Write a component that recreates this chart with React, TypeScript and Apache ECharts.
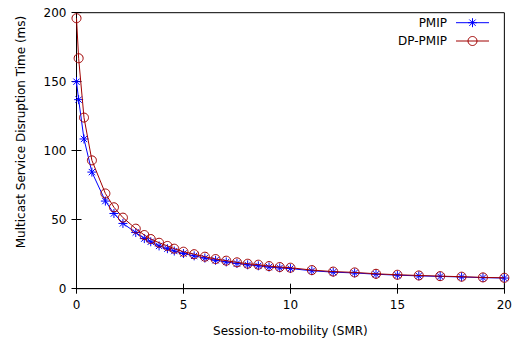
import React, { useEffect, useRef } from "react";
import * as echarts from "echarts";

const smr = [0, 0.1, 0.35, 0.72, 1.35, 1.75, 2.17, 2.77, 3.17, 3.47, 3.86, 4.25, 4.57, 5, 5.5, 6, 6.5, 7, 7.5, 8, 8.5, 9, 9.5, 10, 11, 12, 13, 14, 15, 16, 17, 18, 19, 20];
const dpPmip = [196, 167, 124, 93, 69, 59, 51.5, 43.5, 38.9, 36, 33.3, 31, 29, 26.8, 25, 23.2, 21.5, 20.3, 19.1, 18.1, 17.4, 16.4, 15.7, 15.2, 13.5, 12.4, 11.8, 10.8, 10.1, 9.6, 9.1, 8.7, 8.2, 7.9];
const pmip = [150, 137, 108.5, 84.5, 63.5, 54.5, 47.3, 40.7, 36.3, 34, 31, 29, 27.3, 25.5, 23.8, 22.2, 20.6, 19.4, 18.3, 17.3, 16.6, 15.7, 15.1, 14.6, 13.0, 12.0, 11.4, 10.5, 9.8, 9.3, 8.9, 8.5, 8.0, 7.7];
const xTitle = "Session-to-mobility (SMR)";
const yTitle = "Multicast Service Disruption Time (ms)";
const seriesNames = ["PMIP", "DP-PMIP"];
const seriesColors = ["#0000ff", "#a00000"];

const FONT = "DejaVu Sans";
const starPath = "path://M0,-10L0,10M-10,0L10,0M-7,-7L7,7M-7,7L7,-7";

function legendGraphics() {
  const els: any[] = [];
  const rows = [22.7, 41];
  rows.forEach((y, i) => {
    const c = seriesColors[i];
    els.push({
      type: "text", x: 447, y,
      style: { text: seriesNames[i], fill: "#000", font: `12px "${FONT}"`, align: "right", verticalAlign: "middle" },
    });
    els.push({ type: "line", shape: { x1: 456, y1: y, x2: 489, y2: y }, style: { stroke: c, lineWidth: 1 } });
    const cx = 472.5;
    if (i === 0) {
      const r = 4.5, d = 3.2;
      [[0, -r, 0, r], [-r, 0, r, 0], [-d, -d, d, d], [-d, d, d, -d]].forEach((s) =>
        els.push({ type: "line", shape: { x1: cx + s[0], y1: y + s[1], x2: cx + s[2], y2: y + s[3] }, style: { stroke: c, lineWidth: 1 } })
      );
    } else {
      els.push({ type: "circle", shape: { cx, cy: y, r: 4.5 }, style: { fill: "none", stroke: c, lineWidth: 1 } });
    }
  });
  return els;
}

export default function App() {
  const ref = useRef<HTMLDivElement>(null);
  useEffect(() => {
    const chart = echarts.init(ref.current!, null, { renderer: "svg" });
    const pts = (ys: number[]) => smr.map((x, i) => [x, ys[i]]);
    const tickInside = { show: true, inside: true, length: 5, lineStyle: { color: "#000" } };
    chart.setOption({
      animation: false,
      backgroundColor: "#fff",
      grid: { left: 76.5, right: 9.3, top: 12.7, bottom: 53.3, show: true, borderColor: "#000", borderWidth: 1 },
      xAxis: [
        {
          type: "value", min: 0, max: 20, interval: 5,
          axisLine: { show: true, lineStyle: { color: "#000" } },
          axisTick: tickInside,
          splitLine: { show: false },
          axisLabel: { color: "#000", fontFamily: FONT, fontSize: 12, margin: 10 },
          name: xTitle, nameLocation: "middle", nameGap: 36,
          nameTextStyle: { color: "#000", fontFamily: FONT, fontSize: 12 },
        },
        {
          type: "value", min: 0, max: 20, interval: 5, position: "top",
          axisLine: { show: true, lineStyle: { color: "#000" } },
          axisTick: tickInside, axisLabel: { show: false }, splitLine: { show: false },
        },
      ],
      yAxis: [
        {
          type: "value", min: 0, max: 200, interval: 50,
          axisLine: { show: true, lineStyle: { color: "#000" } },
          axisTick: tickInside,
          splitLine: { show: false },
          axisLabel: { color: "#000", fontFamily: FONT, fontSize: 12, margin: 10 },
        },
        {
          type: "value", min: 0, max: 200, interval: 50, position: "right",
          axisLine: { show: true, lineStyle: { color: "#000" } },
          axisTick: tickInside, axisLabel: { show: false }, splitLine: { show: false },
        },
      ],
      graphic: [
        {
          type: "text", x: 20.5, y: 132, rotation: Math.PI / 2,
          style: { text: yTitle, fill: "#000", font: `12px "${FONT}"`, align: "center", verticalAlign: "middle" },
        },
        ...legendGraphics(),
      ],
      series: [
        {
          name: seriesNames[0], type: "line", data: pts(pmip),
          symbol: starPath, symbolSize: 9, showAllSymbol: true,
          lineStyle: { color: seriesColors[0], width: 1 },
          itemStyle: { color: "none", borderColor: seriesColors[0], borderWidth: 1 },
          z: 2,
        },
        {
          name: seriesNames[1], type: "line", data: pts(dpPmip),
          symbol: "circle", symbolSize: 9, showAllSymbol: true,
          lineStyle: { color: seriesColors[1], width: 1 },
          itemStyle: { color: "none", borderColor: seriesColors[1], borderWidth: 1 },
          z: 3,
        },
      ],
    });
    return () => chart.dispose();
  }, []);
  return <div ref={ref} style={{ width: 515, height: 342, position: "absolute", left: 0, top: 0 }} />;
}
